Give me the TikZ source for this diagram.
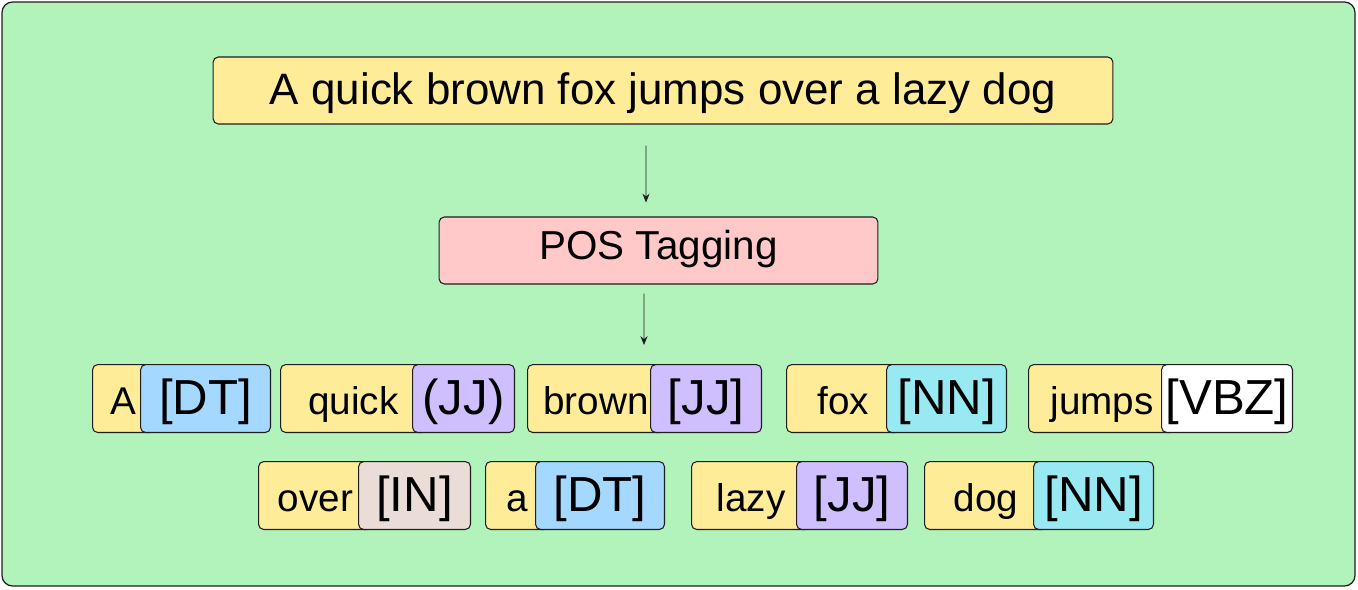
\documentclass[tikz,border=0pt]{standalone}
\usepackage{fontspec}
\setmainfont{Liberation Sans}
\usetikzlibrary{arrows.meta}
\definecolor{bggreen}{HTML}{B2F2BB}
\definecolor{wordyellow}{HTML}{FFEC99}
\definecolor{stagepink}{HTML}{FFC9C9}
\definecolor{tagblue}{HTML}{A5D8FF}
\definecolor{tagpurple}{HTML}{D0BFFF}
\definecolor{tagcyan}{HTML}{99E9F2}
\definecolor{tagbeige}{HTML}{EADDD7}
\definecolor{inkdark}{HTML}{1E1E1E}
\tikzset{
    >=Stealth,
    tagger/.style={
        frame/.append style={draw=inkdark,line width=0.7pt,rounded corners=6pt,fill=bggreen},
        stage/.append style={align=center,draw=inkdark,line width=0.6pt,rounded corners=3pt,minimum height=1.34cm,inner sep=0pt},
        sentence/.append style={stage,text height=18pt,text depth=2.6pt,fill=wordyellow,font=\fontsize{25}{30}\selectfont},
        step box/.append style={stage,text height=13.5pt,text depth=2.7pt,fill=stagepink,font=\fontsize{23}{28}\selectfont},
        token/.append style={align=center,draw=inkdark,line width=0.6pt,rounded corners=3pt,anchor=north west,minimum height=1.36cm,inner sep=0pt,text height=20pt,text depth=2pt,fill=wordyellow,font=\fontsize{22}{26}\selectfont},
        postag/.append style={token,font=\fontsize{28}{32}\selectfont},
        flow/.append style={draw=inkdark,line width=0.5pt,-{Stealth[length=5pt,width=4pt]}}
    }
}

\begin{document}
\begin{tikzpicture}[x=0.02cm,y=-0.02cm,tagger]
    \useasboundingbox (0,0) rectangle (1358,589);
    \draw[frame] (2,2) rectangle (1355,586);
    \node[sentence,minimum width=18cm] (sent) at (663,90.5) {A quick brown fox jumps over a lazy dog};
    \node[step box,minimum width=8.78cm] (tagging) at (658.5,250.5) {POS Tagging};
    \coordinate (rowtop) at (644,364);
    \draw[flow,shorten <=0.42cm,shorten >=0.28cm] ([xshift=-0.34cm]sent.south) -- ([xshift=-0.25cm]tagging.north);
    \draw[flow,shorten <=0.18cm,shorten >=0.38cm] ([xshift=-0.29cm]tagging.south) -- (rowtop);
    % first row
    \node[token,minimum width=1.24cm] (wa) at (92,364) {A};
    \node[postag,fill=tagblue,minimum width=2.6cm] (ta) at (140,364) {[DT]};
    \node[token,minimum width=2.92cm] (wquick) at (280,364) {quick};
    \node[postag,fill=tagpurple,minimum width=2.04cm] (tquick) at (412,364) {(JJ)};
    \node[token,minimum width=2.74cm] (wbrown) at (527,364) {brown};
    \node[postag,fill=tagpurple,minimum width=2.22cm] (tbrown) at (650,364) {[JJ]};
    \node[token,minimum width=2.28cm] (wfox) at (786,364) {fox};
    \node[postag,fill=tagcyan,minimum width=2.4cm] (tfox) at (886,364) {[NN]};
    \node[token,minimum width=2.94cm] (wjumps) at (1028,364) {jumps};
    \node[postag,fill=white,minimum width=2.62cm] (tjumps) at (1161,364) {[VBZ]};
    % second row
    \node[token,minimum width=2.28cm] (wover) at (258,461) {over};
    \node[postag,fill=tagbeige,minimum width=2.24cm] (tover) at (358,461) {[IN]};
    \node[token,minimum width=1.28cm] (wa2) at (485,461) {a};
    \node[postag,fill=tagblue,minimum width=2.58cm] (ta2) at (535,461) {[DT]};
    \node[token,minimum width=2.38cm] (wlazy) at (691,461) {lazy};
    \node[postag,fill=tagpurple,minimum width=2.22cm] (tlazy) at (796,461) {[JJ]};
    \node[token,minimum width=2.46cm] (wdog) at (924,461) {dog};
    \node[postag,fill=tagcyan,minimum width=2.4cm] (tdog) at (1033,461) {[NN]};
\end{tikzpicture}
\end{document}
